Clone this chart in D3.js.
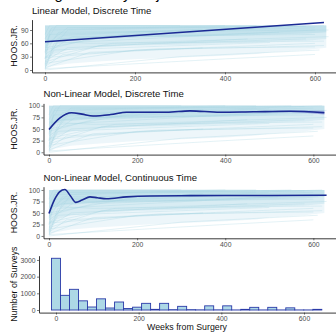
<!DOCTYPE html>
<html>
<head>
<meta charset="utf-8">
<script src="https://cdn.jsdelivr.net/npm/d3@7"></script>
<style>
  body { margin: 0; background: #fff; }
  svg { display: block; font-family: "Liberation Sans", Arial, sans-serif; }
</style>
</head>
<body>
<div id="chart"></div>
<script>
// ---- data ----
const xTicks = [0, 200, 400, 600];

// individual survey trajectories (week, HOOS JR) - representative sample
const trajectories = [
  [[0, 2], [20, 60], [600, 90]],
  [[0, 10], [30, 70], [500, 95]],
  [[0, 25], [10, 80], [620, 100]],
  [[0, 40], [12, 90], [400, 100]],
  [[0, 55], [50, 95], [580, 98]],
  [[0, 5], [100, 40], [600, 60]],
  [[0, 15], [200, 45], [620, 55]],
  [[0, 0], [300, 30], [610, 45]],
  [[0, 20], [50, 50], [450, 70]],
  [[0, 35], [60, 75], [600, 80]],
  [[0, 60], [25, 100], [300, 100]],
  [[0, 45], [100, 70], [520, 85]],
  [[0, 8], [40, 35], [350, 50]],
  [[0, 30], [150, 60], [630, 75]],
  [[0, 70], [15, 95], [470, 95]],
  [[0, 50], [200, 85], [600, 95]],
  [[0, 12], [8, 65], [250, 85]],
  [[0, 3], [400, 25], [600, 35]],
  [[0, 65], [100, 60], [620, 65]],
  [[0, 25], [50, 90], [550, 100]],
  [[0, 18], [120, 55], [580, 70]],
  [[0, 6], [20, 45], [500, 62]],
  [[0, 38], [30, 85], [630, 90]],
  [[0, 80], [10, 100], [470, 100]],
  [[0, 28], [250, 48], [600, 52]],
  [[0, 52], [40, 78], [350, 92]]
];

// density envelope of the trajectories
const bandWeeks  = [0, 5, 15, 50, 100, 200, 300, 400, 470, 500, 580, 625];
const bandTop    = [100, 100, 100, 100, 100, 100, 100, 100, 100, 100, 100, 100];
const bandFaint  = [0, 4, 8, 14, 18, 24, 28, 32, 36, 40, 45, 50];
const bandMid    = [5, 22, 35, 45, 50, 55, 57, 60, 62, 64, 66, 70];
const bandDense  = [35, 58, 66, 70, 72, 74, 75, 77, 79, 80, 82, 85];

// model fits
const linWeeks = [0, 620];
const linFit   = [63.5, 107];

const nlWeeks = [0, 25, 51, 75, 100, 140, 176, 220, 267, 320, 388, 464, 547, 625];
const nlFit   = [49, 74, 85, 82, 78, 81, 86, 86, 86, 89, 86, 87, 88, 85];
const nlLow   = [47, 72.5, 84, 81, 77, 80, 85, 85, 85, 88, 85, 86, 86, 81];
const nlHigh  = [51, 75.5, 86, 83, 79, 82, 87, 87, 87, 90, 87, 88, 90, 89];

const ctWeeks = [0, 12, 24, 36, 48, 61, 75, 93, 110, 130, 176, 230, 300, 400, 500, 630];
const ctFit   = [49, 78, 96, 101, 88, 73, 78, 85, 83, 81, 85, 87, 87.5, 88, 88, 88.5];

// histogram of surveys
const binWidth = 21.8;
const binCounts = [3100, 880, 1240, 550, 180, 670, 120, 480, 90, 170,
                   400, 40, 400, 20, 220, 20, 10, 250, 10, 250,
                   5, 40, 160, 5, 160, 5, 130, 5, 5, 40];
const histTicks = [0, 1000, 2000, 3000];

// ---- layout ----
const W = 336, H = 332;
const svg = d3.select("#chart").append("svg")
  .attr("width", W).attr("height", H);

// figure title, mostly above the visible area in the reference
svg.append("text")
  .attr("x", 2).attr("y", -1)
  .attr("font-size", 15)
  .attr("fill", "#000")
  .text("Modeling Recovery Trajectories");

const axisCol = "#222";
const tickCol = "#4d4d4d";
const lineCol = "#1b2a94";

function drawAxes(g, x, y, yTicks, top, bottom, left, titleText, yTitle) {
  const xa = g.append("g")
    .attr("transform", `translate(0,${bottom})`)
    .call(d3.axisBottom(x).tickValues(xTicks).tickSize(2).tickPadding(1.5).tickSizeOuter(0));
  const ya = g.append("g")
    .attr("transform", `translate(${left},0)`)
    .call(d3.axisLeft(y).tickValues(yTicks).tickFormat(d3.format("d")).tickSize(2).tickPadding(1.5).tickSizeOuter(0));
  [xa, ya].forEach(a => {
    a.select(".domain").attr("stroke", axisCol).attr("stroke-width", 0.9);
    a.selectAll(".tick line").attr("stroke", axisCol).attr("stroke-width", 0.6);
    a.selectAll(".tick text").attr("fill", tickCol).attr("font-size", 6.8)
      .attr("font-family", "Liberation Sans, Arial, sans-serif");
  });
  if (titleText) {
    g.append("text")
      .attr("x", left).attr("y", top - 6)
      .attr("font-size", 9.6).attr("fill", "#111")
      .text(titleText);
  }
  g.append("text")
    .attr("transform", `translate(14,${(top + bottom) / 2}) rotate(-90)`)
    .attr("text-anchor", "middle")
    .attr("dominant-baseline", "central")
    .attr("font-size", 8.8).attr("fill", "#111")
    .text(yTitle);
}

function drawSpaghetti(g, x, y, id, top, bottom, left) {
  g.append("clipPath").attr("id", id)
    .append("rect").attr("x", left).attr("y", top)
    .attr("width", W - left).attr("height", bottom - top);
  const c = g.append("g").attr("clip-path", `url(#${id})`);
  const area = (lo) => d3.area()
    .x((d, i) => x(bandWeeks[i]))
    .y0((d, i) => y(lo[i]))
    .y1((d, i) => y(bandTop[i]))(bandWeeks);
  c.append("path").attr("d", area(bandFaint)).attr("fill", "#add8e6").attr("opacity", 0.22);
  c.append("path").attr("d", area(bandMid)).attr("fill", "#add8e6").attr("opacity", 0.33);
  c.append("path").attr("d", area(bandDense)).attr("fill", "#add8e6").attr("opacity", 0.5);
  const line = d3.line().x(d => x(d[0])).y(d => y(d[1]));
  c.selectAll("path.traj").data(trajectories).enter()
    .append("path").attr("class", "traj")
    .attr("d", line)
    .attr("fill", "none")
    .attr("stroke", "#a6d3e2")
    .attr("stroke-width", 0.5)
    .attr("opacity", 0.6);
  return c;
}

// panel 1: linear, discrete time
{
  const top = 19.6, bottom = 72.4, left = 32;
  const x = d3.scaleLinear().domain([-28.9, 646.7]).range([left, W]);
  const y = d3.scaleLinear().domain([-5.4, 113.4]).range([bottom, top]);
  const g = svg.append("g");
  const c = drawSpaghetti(g, x, y, "clip1", top, bottom, left);
  c.append("path")
    .attr("d", d3.line().x((d, i) => x(linWeeks[i])).y(d => y(d))(linFit))
    .attr("fill", "none").attr("stroke", lineCol).attr("stroke-width", 1.6);
  drawAxes(g, x, y, [0, 30, 60, 90], top, bottom, left, "Linear Model, Discrete Time", "HOOS.JR.");
}

// panel 2: non-linear, discrete time
{
  const top = 103.4, bottom = 154.6, left = 43.5;
  const x = d3.scaleLinear().domain([-12.5, 651.4]).range([left, W]);
  const y = d3.scaleLinear().domain([-5, 105]).range([bottom, top]);
  const g = svg.append("g");
  const c = drawSpaghetti(g, x, y, "clip2", top, bottom, left);
  c.append("path")
    .attr("d", d3.area().curve(d3.curveMonotoneX)
      .x((d, i) => x(nlWeeks[i])).y0((d, i) => y(nlLow[i])).y1(d => y(d))(nlHigh))
    .attr("fill", "#5a5fc8").attr("opacity", 0.45);
  c.append("path")
    .attr("d", d3.line().curve(d3.curveMonotoneX).x((d, i) => x(nlWeeks[i])).y(d => y(d))(nlFit))
    .attr("fill", "none").attr("stroke", lineCol).attr("stroke-width", 1.6);
  drawAxes(g, x, y, [0, 25, 50, 75, 100], top, bottom, left, "Non-Linear Model, Discrete Time", "HOOS.JR.");
}

// panel 3: non-linear, continuous time
{
  const top = 186.7, bottom = 238.3, left = 43.5;
  const x = d3.scaleLinear().domain([-12.5, 651.4]).range([left, W]);
  const y = d3.scaleLinear().domain([-5.1, 107.1]).range([bottom, top]);
  const g = svg.append("g");
  const c = drawSpaghetti(g, x, y, "clip3", top, bottom, left);
  c.append("path")
    .attr("d", d3.line().curve(d3.curveMonotoneX).x((d, i) => x(ctWeeks[i])).y(d => y(d))(ctFit))
    .attr("fill", "none").attr("stroke", lineCol).attr("stroke-width", 1.6);
  drawAxes(g, x, y, [0, 25, 50, 75, 100], top, bottom, left, "Non-Linear Model, Continuous Time", "HOOS.JR.");
}

// panel 4: histogram of survey timing
{
  const top = 255.7, bottom = 312.6, left = 39;
  const x = d3.scaleLinear().domain([-41.1, 677.4]).range([left, W]);
  const y = d3.scaleLinear().domain([-155, 3255]).range([bottom, top]);
  const g = svg.append("g");
  g.selectAll("rect.bin").data(binCounts).enter()
    .append("rect").attr("class", "bin")
    .attr("x", (d, i) => x(i * binWidth - binWidth / 2))
    .attr("width", x(binWidth) - x(0))
    .attr("y", d => y(d))
    .attr("height", d => y(0) - y(d))
    .attr("fill", "#add8e6")
    .attr("stroke", "#2a3aa8")
    .attr("stroke-width", 0.9);
  drawAxes(g, x, y, histTicks, top, bottom, left, null, "Number of Surveys");
  g.append("text")
    .attr("x", 187).attr("y", 329.5)
    .attr("text-anchor", "middle")
    .attr("font-size", 8.8).attr("fill", "#111")
    .text("Weeks from Surgery");
}
</script>
</body>
</html>
